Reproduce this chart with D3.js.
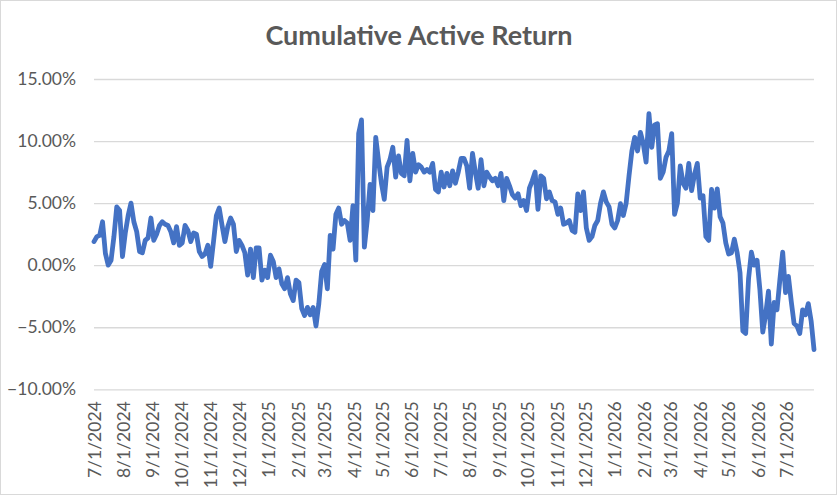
<!DOCTYPE html>
<html>
<head>
<meta charset="utf-8">
<script src="https://d3js.org/d3.v7.min.js"></script>
<style>
  body { margin: 0; background: #ffffff; }
  svg text { font-family: Lato, "Open Sans", sans-serif; fill: #595959; }
</style>
</head>
<body>
<div id="chart"></div>
<script>
//Chart data: one value every 3 days starting 7/1/2024 (cumulative active return, %)
var startDate = "2024-07-01";
var stepDays = 3;
var activeReturn = [
  1.9, 2.3, 2.4, 3.5, 0.95, 0.0, 0.4, 2.3, 4.7, 4.4,
  0.7, 2.6, 4.0, 5.0, 3.5, 2.7, 1.1, 1.0, 2.0, 2.2,
  3.8, 2.0, 2.5, 3.2, 3.5, 3.3, 3.2, 2.7, 1.8, 3.1,
  1.6, 1.8, 3.2, 2.8, 1.9, 2.6, 2.5, 1.1, 0.7, 0.9,
  1.6, -0.1, 1.9, 4.0, 4.6, 3.2, 1.9, 3.1, 3.8, 3.3,
  1.1, 2.0, 1.6, 1.0, -0.8, 1.3, -1.0, 1.4, 1.4, -1.2,
  -0.4, -1.0, 0.8, 0.3, -1.0, -0.3, -1.5, -1.9, -1.0, -2.3,
  -2.85, -1.2, -1.4, -3.5, -4.06, -3.4, -4.0, -3.4, -4.9, -3.1,
  -0.5, 0.05, -1.9, 2.4, 1.3, 4.1, 4.6, 3.3, 3.6, 3.4,
  2.0, 4.8, 0.4, 10.6, 11.7, 1.45, 3.6, 6.5, 4.4, 10.3,
  8.4, 6.6, 5.3, 7.9, 8.5, 9.5, 7.1, 8.8, 7.4, 7.2,
  10.05, 6.8, 9.0, 7.5, 8.1, 7.9, 7.5, 7.7, 7.5, 8.2,
  6.1, 5.9, 7.5, 6.3, 7.4, 6.4, 7.6, 6.6, 7.5, 8.6,
  8.6, 8.0, 6.2, 9.0, 7.5, 6.2, 8.5, 6.4, 7.5, 7.1,
  6.8, 7.0, 6.4, 7.4, 5.2, 7.0, 6.4, 5.7, 5.4, 5.75,
  4.8, 5.2, 4.4, 6.2, 6.8, 7.5, 4.5, 7.2, 7.0, 5.35,
  5.9, 5.2, 5.1, 4.1, 4.6, 3.3, 3.4, 3.6, 2.8, 2.65,
  5.75, 4.4, 5.9, 3.0, 2.0, 2.3, 3.2, 3.6, 5.0, 5.9,
  5.1, 4.7, 3.3, 3.0, 3.6, 4.95, 4.0, 5.0, 7.2, 9.2,
  10.3, 9.2, 10.7, 9.8, 8.3, 12.2, 9.5, 11.3, 11.4, 7.0,
  7.5, 8.7, 9.2, 10.6, 4.1, 5.0, 8.0, 6.6, 6.2, 8.2,
  6.0, 7.3, 8.2, 5.4, 5.6, 2.3, 2.0, 6.1, 4.6, 6.15,
  3.9, 3.4, 1.8, 0.9, 1.0, 2.1, 1.0, -0.6, -5.3, -5.5,
  -1.1, 1.05, 0.0, 0.4, -2.0, -5.4, -4.0, -2.1, -6.35, -3.0,
  -3.6, -1.2, 1.05, -2.2, -0.9, -2.9, -4.7, -4.9, -5.5, -3.6,
  -4.0, -3.1, -4.5, -6.8
];
//Y axis tick values (%) and first/last month label
var yTicks = [-10, -5, 0, 5, 10, 15];
var firstLabel = "2024-07-01";
var lastLabel = "2026-07-01";
var chartTitle = "Cumulative Active Return";

//Size of the picture and the plot area
var width = 839;
var height = 497;
var plot = { left: 94, right: 814, top: 79, bottom: 389.3 };

var svg = d3.select("#chart").append("svg").attr("width", width).attr("height", height);

//Chart area border
svg.append("rect")
  .attr("x", 0.5).attr("y", 0.5)
  .attr("width", 836).attr("height", 494)
  .attr("fill", "#ffffff")
  .attr("stroke", "#d9d9d9")
  .attr("stroke-width", 1);

//Build the dates for every value
var parse = d3.timeParse("%Y-%m-%d");
var data = activeReturn.map(function(v, i) {
  return { date: d3.timeDay.offset(parse(startDate), i * stepDays), value: v };
});

// Define scales
var xScale = d3.scaleTime()
  .domain([data[0].date, data[data.length - 1].date])
  .range([plot.left, plot.right]);
var yScale = d3.scaleLinear()
  .domain([-10, 15])
  .range([plot.bottom, plot.top]);

//Gridlines + y labels
var yAxis = svg.append("g")
  .attr("class", "yScale")
  .attr("transform", "translate(" + plot.left + ",0)")
  .call(d3.axisLeft(yScale)
    .tickValues(yTicks)
    .tickSize(-(plot.right - plot.left))
    .tickPadding(18)
    .tickFormat(function(d) { return d3.format(".2f")(d) + "%"; }));
yAxis.select(".domain").remove();
yAxis.selectAll(".tick line").attr("stroke", "#d9d9d9").attr("stroke-width", 1.3);
yAxis.selectAll(".tick text").attr("font-size", "17.5px").style("fill", "#595959");

//Monthly x labels, rotated
var months = d3.timeMonth.range(parse(firstLabel), d3.timeDay.offset(parse(lastLabel), 1));
var xAxis = svg.append("g")
  .attr("class", "xScale")
  .attr("transform", "translate(0," + plot.bottom + ")")
  .call(d3.axisBottom(xScale)
    .tickValues(months)
    .tickSize(0)
    .tickFormat(d3.timeFormat("%-m/%-d/%Y")));
xAxis.select(".domain").remove();
xAxis.selectAll(".tick text")
  .attr("font-size", "17.5px")
  .style("fill", "#595959")
  .attr("text-anchor", "end")
  .attr("transform", "rotate(-90)")
  .attr("x", -12)
  .attr("y", 0)
  .attr("dy", "0.35em");

// Adds the line to the graph
svg.append("path")
  .datum(data)
  .attr("fill", "none")
  .attr("stroke", "#4472c4")
  .attr("stroke-width", 4.8)
  .attr("stroke-linejoin", "round")
  .attr("stroke-linecap", "round")
  .attr("d", d3.line()
    .x(function(d) { return xScale(d.date); })
    .y(function(d) { return yScale(d.value); }));

//Title
svg.append("text")
  .attr("x", 419)
  .attr("y", 45)
  .attr("text-anchor", "middle")
  .attr("font-size", "27px")
  .attr("font-weight", "bold")
  .text(chartTitle);
</script>
</body>
</html>
